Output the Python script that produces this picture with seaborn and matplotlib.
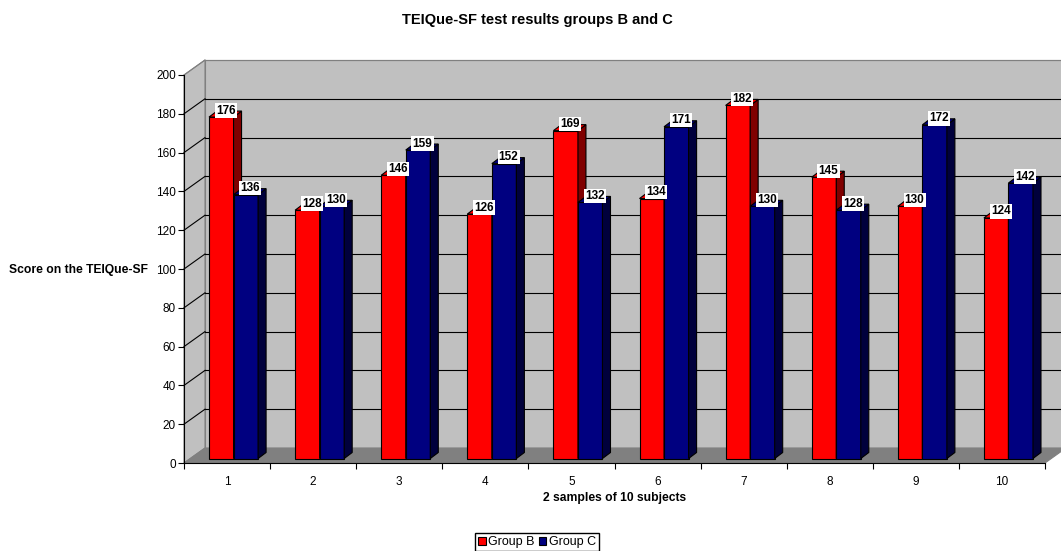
import matplotlib
matplotlib.use("Agg")
import matplotlib.pyplot as plt
from matplotlib.patches import Polygon, Patch
from matplotlib.lines import Line2D
from matplotlib.transforms import ScaledTranslation, IdentityTransform
import pandas as pd
import seaborn as sns

# Scores of the two samples of 10 subjects
subjects = ["1", "2", "3", "4", "5", "6", "7", "8", "9", "10"]
group_b = [176, 128, 146, 126, 169, 134, 182, 145, 130, 124]
group_c = [136, 130, 159, 152, 132, 171, 130, 128, 172, 142]
groups = ["Group B", "Group C"]
y_ticks = [0, 20, 40, 60, 80, 100, 120, 140, 160, 180, 200]

df = pd.DataFrame({
    "Subject": subjects * 2,
    "Group": [groups[0]] * len(group_b) + [groups[1]] * len(group_c),
    "Score": group_b + group_c,
})

plt.rcParams["font.family"] = ["Liberation Sans", "DejaVu Sans"]

W, H = 1061, 551
fig = plt.figure(figsize=(W / 100, H / 100), dpi=100)
ax = fig.add_axes([184 / W, 88 / H, 861 / W, 388 / H])
ax.set_facecolor("none")

front = {"Group B": "#FF0000", "Group C": "#000080"}
side = {"Group B": "#800000", "Group C": "#00003C"}

sns.barplot(data=df, x="Subject", y="Score", hue="Group", palette=front,
            saturation=1, width=0.57, gap=0, edgecolor="black", linewidth=0.8,
            legend=False, ax=ax)

ax.set_xlim(-0.5, len(subjects) - 0.5)
ax.set_ylim(0, 200)

# pseudo-3D geometry (pixels)
WALL_DX, WALL_DY = 21, 15      # depth of the chart box
POS_DX, POS_DY = 6.5, 4.5      # bars sit partway into the box
BAR_DX, BAR_DY = 8, 6          # depth of each bar

to_px = ax.transData.transform
ident = IdentityTransform()

(x0, y0), (x1, y1) = to_px((-0.5, 0)), to_px((len(subjects) - 0.5, 200))

def add_poly(pts, fc, ec, z, lw=0.8):
    p = Polygon(pts, closed=True, facecolor=fc, edgecolor=ec, linewidth=lw,
                transform=ident, clip_on=False, zorder=z)
    ax.add_artist(p)

# walls and floor
add_poly([(x0 + WALL_DX, y0 + WALL_DY), (x1 + WALL_DX, y0 + WALL_DY),
          (x1 + WALL_DX, y1 + WALL_DY), (x0 + WALL_DX, y1 + WALL_DY)],
         "#C0C0C0", "#808080", 0.1)
add_poly([(x0, y0), (x0, y1), (x0 + WALL_DX, y1 + WALL_DY),
          (x0 + WALL_DX, y0 + WALL_DY)], "#C0C0C0", "#808080", 0.2)
add_poly([(x0, y0), (x1, y0), (x1 + WALL_DX, y0 + WALL_DY),
          (x0 + WALL_DX, y0 + WALL_DY)], "#808080", "#808080", 0.3)

# gridlines on the left and back walls
for v in y_ticks[1:]:
    yp = to_px((0, v))[1]
    col = "#808080" if v == y_ticks[-1] else "black"
    for xs, ys in (([x0, x0 + WALL_DX], [yp, yp + WALL_DY]),
                   ([x0 + WALL_DX, x1 + WALL_DX], [yp + WALL_DY, yp + WALL_DY])):
        ax.add_artist(Line2D(xs, ys, color=col, linewidth=0.8,
                             transform=ident, clip_on=False, zorder=0.5))

# bars: shift fronts back, add side and top faces, and value labels
shift = ax.transData + ScaledTranslation(POS_DX / 100, POS_DY / 100,
                                         fig.dpi_scale_trans)
for gi, (grp, cont) in enumerate(zip(groups, ax.containers)):
    for ci, bar in enumerate(cont):
        z = 2 + ci * 0.1 + gi * 0.05
        bar.set_transform(shift)
        bar.set_zorder(z)
        bx, bw, bh = bar.get_x(), bar.get_width(), bar.get_height()
        (px0, py0) = to_px((bx, 0)) + (POS_DX, POS_DY)
        (px1, py1) = to_px((bx + bw, bh)) + (POS_DX, POS_DY)
        add_poly([(px1, py0), (px1, py1), (px1 + BAR_DX, py1 + BAR_DY),
                  (px1 + BAR_DX, py0 + BAR_DY)], side[grp], "black", z)
        add_poly([(px0, py1), (px1, py1), (px1 + BAR_DX, py1 + BAR_DY),
                  (px0 + BAR_DX, py1 + BAR_DY)], front[grp], "black", z)
        ax.text((px0 + px1) / 2 + 4.5, py1 + 0.5, f"{bh:.0f}",
                transform=ident, ha="center", va="bottom", fontsize=8.5,
                fontweight="bold", color="black", zorder=10, clip_on=False,
                bbox=dict(boxstyle="square,pad=0.1", facecolor="white",
                          edgecolor="none"))

# axes styling
for s in ("top", "right"):
    ax.spines[s].set_visible(False)
for s in ("left", "bottom"):
    ax.spines[s].set_color("black")
    ax.spines[s].set_linewidth(0.8)
    ax.spines[s].set_zorder(3)

ax.set_yticks(y_ticks)
ax.set_yticklabels([str(v) for v in y_ticks])
ax.tick_params(axis="y", length=4.3, width=0.8, pad=1.5, labelsize=8.5,
               direction="out", colors="black")
ax.set_xticks(range(len(subjects)))
ax.set_xticklabels(subjects)
ax.set_xticks([i - 0.5 for i in range(len(subjects) + 1)], minor=True)
ax.tick_params(axis="x", which="major", length=0, pad=9.5, labelsize=8.5)
ax.tick_params(axis="x", which="minor", length=4.3, width=0.8, direction="out")
ax.grid(False)

ax.set_ylabel("Score on the TEIQue-SF", rotation=0, ha="right", va="center",
              fontsize=8.7, fontweight="bold")
ax.yaxis.set_label_coords((148 - 184) / 861, (463 - 270) / 388)
ax.set_xlabel("2 samples of 10 subjects", fontsize=8.7, fontweight="bold",
              va="center")
ax.xaxis.set_label_coords(0.5, (463 - 498) / 388)

fig.text(537 / W, 1 - 20 / H, "TEIQue-SF test results groups B and C",
         ha="center", va="center", fontsize=10.5, fontweight="bold")

handles = [Patch(facecolor=front[g], edgecolor="black", linewidth=0.8) for g in groups]
fig.legend(handles, groups, loc="upper center", ncol=2,
           bbox_to_anchor=(537 / W, 1 - 533 / H), fontsize=9,
           frameon=True, fancybox=False, edgecolor="black", framealpha=1,
           handlelength=0.6, handleheight=0.6, handletextpad=0.2,
           columnspacing=0.3, borderpad=0.25, borderaxespad=0)

fig.savefig("out.png", dpi=100)
